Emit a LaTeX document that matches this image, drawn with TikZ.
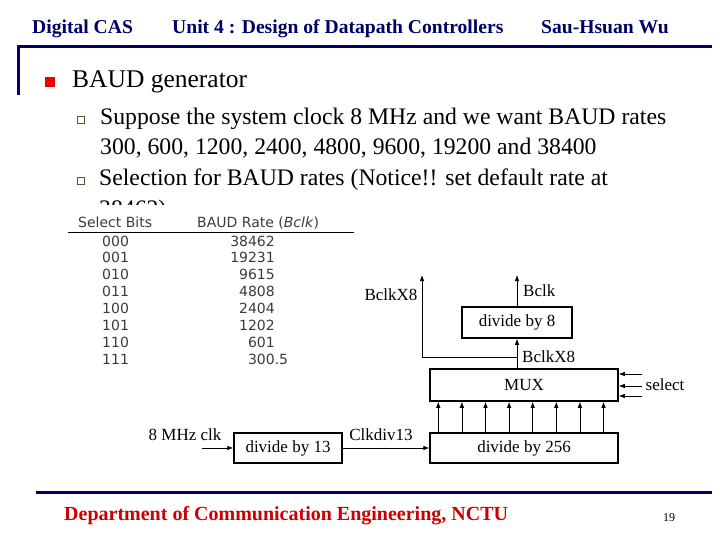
\documentclass[tikz,border=0pt]{standalone}
\usepackage{fontspec}
\setmainfont{Liberation Serif}
\newfontfamily\tablefont{DejaVu Sans}
\usetikzlibrary{arrows.meta}
\definecolor{headNavy}{RGB}{0,0,102}
\definecolor{footRed}{RGB}{204,0,0}
\definecolor{bulletRed}{RGB}{235,0,0}
\definecolor{subGreen}{RGB}{70,95,50}
\definecolor{tableGray}{RGB}{60,60,60}

\begin{document}
\begin{tikzpicture}[x=1pt,y=-1pt,
    blk/.style={draw,line width=1.5pt,inner sep=0pt},
    lbl/.style={font=\fontsize{17}{17}\selectfont},
    sig/.style={-{Latex[length=6pt,width=4.5pt]},line width=0.7pt},
    body/.style={font=\fontsize{23.7}{23.7}\selectfont,anchor=base west,inner sep=0pt},
    tbl/.style={font=\tablefont\fontsize{14}{14}\selectfont,text=tableGray,inner sep=0pt}]
  \useasboundingbox (0,0) rectangle (720,540);
  % header
  \node[font=\bfseries\fontsize{19.6}{19.6}\selectfont,text=headNavy,anchor=base west,inner sep=0pt] (hleft) at (32,34) {Digital CAS};
  \node[font=\bfseries\fontsize{19.6}{19.6}\selectfont,text=headNavy,anchor=base west,inner sep=0pt] (hmid) at (172,34) {Unit 4 : Design of Datapath Controllers};
  \node[font=\bfseries\fontsize{19.6}{19.6}\selectfont,text=headNavy,anchor=base west,inner sep=0pt] (hright) at (541,34) {Sau-Hsuan Wu};
  \draw[headNavy,line width=3pt] (18,95) -- (18,47) -- (712,47);
  % bullets
  \fill[bulletRed] (45,77) rectangle (55,87);
  \node[font=\fontsize{25.5}{25.5}\selectfont,anchor=base west,inner sep=0pt] (title) at (72,88) {BAUD generator};
  \draw[subGreen,line width=0.9pt,fill=white] (77,116) rectangle (84,123);
  \draw[subGreen,line width=0.9pt,fill=white] (77,177) rectangle (84,184);
  \node[body] (pt1) at (100,125) {Suppose the system clock 8 MHz and we want BAUD rates};
  \node[body] (pt1b) at (100,155) {300, 600, 1200, 2400, 4800, 9600, 19200 and 38400};
  \node[body] (pt2) at (99,186) {Selection for BAUD rates (Notice!! set default rate at};
  \node[body] (pt2b) at (99,217) {38462)};
  % table
  \fill[white] (60,205) rectangle (362,372);
  \node[tbl,anchor=base west] (hsel) at (78,227) {Select Bits};
  \node[tbl,anchor=base west] (hrate) at (197,227) {BAUD Rate (\textit{Bclk})};
  \draw[line width=0.8pt] (68,232) -- (354,232);
  \foreach \b/\r [count=\i from 0] in {000/38462,001/19231,010/9615,011/4808,100/2404,101/1202,110/601,111/300\rlap{.5}}{
    \node[tbl,anchor=base west] (bits\i) at (102,{246+16.9*\i}) {\b};
    \node[tbl,anchor=base east] (rate\i) at (275,{246+16.9*\i}) {\r};
  }
  % block diagram
  \node[blk,minimum width=110pt,minimum height=31pt,lbl] (div8) at (517,322.5) {divide by 8};
  \node[blk,minimum width=188pt,minimum height=32pt,lbl] (mux) at (524,385) {MUX};
  \node[blk,minimum width=188pt,minimum height=30pt,lbl] (div256) at (524,448) {divide by 256};
  \node[blk,minimum width=108pt,minimum height=30pt,lbl] (div13) at (288,448) {divide by 13};
  \coordinate (bclkout) at (517,275);
  \coordinate (tap) at (517,357);
  \coordinate (x8out) at (422,275);
  \coordinate (clkin) at (202,448);
  \draw[sig] (div8.north) -- (bclkout);
  \draw[sig] (div8.south |- mux.north) -- (div8.south);
  \draw[sig] (tap) -| (x8out);
  \draw[sig] (clkin) -- (div13.west);
  \draw[sig] (div13.east) -- (div256.west);
  \foreach \i in {0,...,7}{
    \pgfmathsetmacro\xx{438.3+23.6*\i}
    \draw[sig] (\xx,0 |- div256.north) -- (\xx,0 |- mux.south);
  }
  \foreach \yy in {374,386,396}{
    \draw[sig] (642,\yy) -- (mux.east |- 0,\yy);
  }
  \node[lbl,anchor=west,inner sep=0pt] (lbclk) at (523,291) {Bclk};
  \node[lbl,inner sep=0pt] (lx8a) at (391,295) {BclkX8};
  \node[lbl,anchor=west,inner sep=0pt] (lx8b) at (522,357) {BclkX8};
  \node[lbl,inner sep=0pt] (lsel) at (665,385) {select};
  \node[lbl,inner sep=0pt] (lclk) at (185,435) {8 MHz clk};
  \node[lbl,inner sep=0pt] (ldiv13) at (381,435) {Clkdiv13};
  % footer
  \draw[headNavy,line width=3pt] (36,492) -- (712,492);
  \node[font=\bfseries\fontsize{20}{20}\selectfont,text=footRed,anchor=base west,inner sep=0pt] (foot) at (64,520) {Department of Communication Engineering, NCTU};
  \node[font=\fontsize{12}{12}\selectfont,anchor=base west,inner sep=0pt] (pageno) at (663,521) {19};
\end{tikzpicture}
\end{document}
